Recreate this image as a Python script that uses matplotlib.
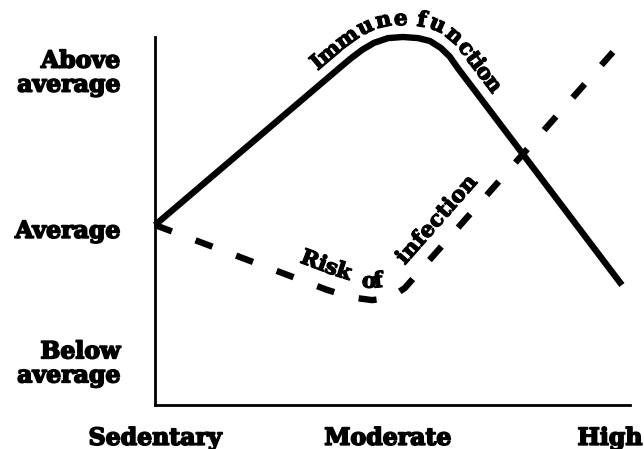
import numpy as np
import matplotlib.pyplot as plt
import matplotlib.patheffects as pe
from matplotlib.font_manager import FontProperties

plt.rcParams['font.family'] = 'DejaVu Serif'
plt.rcParams['font.weight'] = 'bold'
plt.rcParams['lines.scale_dashes'] = False

# axis categories
x_ticks = [0, 49, 95.8]
x_labels = ['Sedentary', 'Moderate', 'High']
y_ticks = [12, 48, 91]
y_labels = ['Below\naverage', 'Average', 'Above\naverage']

# immune function curve
immune_x = [0, 38.3, 41.05, 43.6, 46.1, 49.05, 52.2, 55.4, 57.9, 60.2, 62.1, 63.6, 98.3]
immune_y = [48.9, 91.0, 94.0, 96.5, 98.4, 99.7, 100, 99.7, 98.9, 97.0, 94.6, 91.8, 32.6]

# risk of infection curve
risk_x = [0, 36.2, 41.1, 45.7, 49.5, 52.6, 96.4]
risk_y = [48.9, 31.3, 29.3, 28.5, 29.1, 31.8, 95.9]

heavy = [pe.withStroke(linewidth=1.2, foreground='black')]
heavy_small = [pe.withStroke(linewidth=0.9, foreground='black')]

fig = plt.figure(figsize=(6.44, 4.49), dpi=100)
ax = fig.add_axes([155 / 644, 44 / 449, 475 / 644, 368 / 449])
ax.set_xlim(0, 100)
ax.set_ylim(0, 100)

for side in ['top', 'right']:
    ax.spines[side].set_visible(False)
for side in ['left', 'bottom']:
    ax.spines[side].set_linewidth(2.0)

ax.plot(immune_x, immune_y, color='black', lw=4.6, solid_joinstyle='round',
        solid_capstyle='butt', clip_on=False)
ax.plot(risk_x, risk_y, color='black', lw=4.6, dashes=(13, 18.2),
        dash_capstyle='butt', dash_joinstyle='round', clip_on=False)

ax.set_xticks(x_ticks, x_labels)
ax.set_yticks(y_ticks, y_labels)
ax.tick_params(axis='x', length=0, labelsize=17, pad=15)
ax.tick_params(axis='y', length=0, labelsize=17, pad=25)
for lbl in ax.get_yticklabels() + ax.get_xticklabels():
    lbl.set_path_effects(heavy)
for lbl in ax.get_yticklabels():
    lbl.set_linespacing(1.0)


def curve_text(xs, ys, text, s0, offset, size, track=0.0):
    # letters placed one by one along the curve, s0 and offset in pixels
    fig.canvas.draw()
    r = fig.canvas.get_renderer()
    fp = FontProperties(family='DejaVu Serif', weight='bold', size=size)
    pts = ax.transData.transform(np.column_stack([xs, ys]))
    seg = np.hypot(*np.diff(pts, axis=0).T)
    cum = np.concatenate([[0], np.cumsum(seg)])
    ss = np.arange(0, cum[-1], 1.0)
    px = np.interp(ss, cum, pts[:, 0])
    py = np.interp(ss, cum, pts[:, 1])
    k = np.ones(21) / 21
    tx = np.convolve(np.gradient(px), k, 'same')
    ty = np.convolve(np.gradient(py), k, 'same')
    nn = np.hypot(tx, ty)
    tx, ty = tx / nn, ty / nn

    def W(t):
        return r.get_text_width_height_descent(t, fp, ismath=False)[0]

    for i, ch in enumerate(text):
        if ch == ' ':
            continue
        w = W(ch)
        c = s0 + (W(text[:i + 1]) - w / 2) * (1 + track)
        ux = np.interp(c, ss, tx)
        uy = np.interp(c, ss, ty)
        cx = np.interp(c, ss, px) - uy * offset
        cy = np.interp(c, ss, py) + ux * offset
        ang = np.degrees(np.arctan2(uy, ux))
        dx, dy = ax.transData.inverted().transform((cx, cy))
        ax.text(dx, dy, ch, fontproperties=fp, rotation=ang,
                rotation_mode='anchor', ha='center', va='baseline',
                clip_on=False, path_effects=heavy_small)


curve_text(immune_x, immune_y, 'Immune function', 224, 12, 15.5, -0.05)
curve_text(risk_x, risk_y, 'Risk', 148, 16, 15.5, 0.02)
curve_text(risk_x, risk_y, 'of', 219, 12, 15.5)
curve_text(risk_x, risk_y, 'infection', 283, 15, 15.5, 0.03)

fig.savefig('out.png', dpi=100)
